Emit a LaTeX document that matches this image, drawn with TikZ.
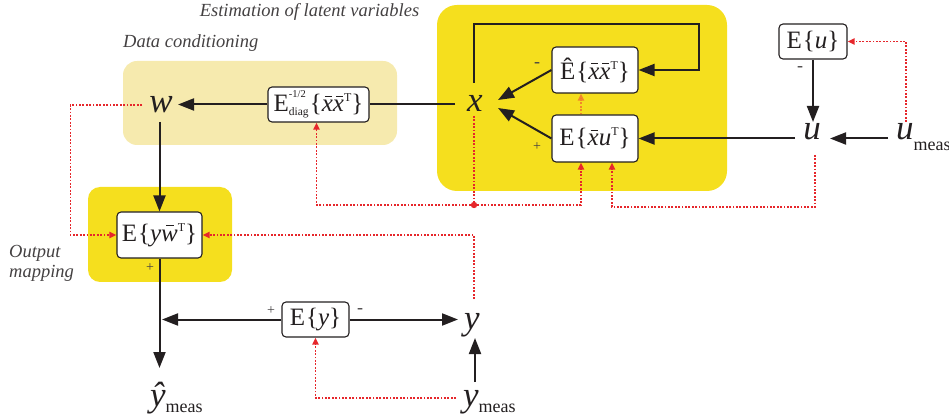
\documentclass[tikz,border=0pt]{standalone}
\usepackage{fontspec}
\setmainfont{Liberation Serif}
\usetikzlibrary{arrows.meta,calc}

\definecolor{hiyellow}{HTML}{F5DF1E}
\definecolor{paleyellow}{HTML}{F6EAAE}
\definecolor{sigred}{HTML}{E6262B}
\definecolor{sigorange}{HTML}{F2862A}
\definecolor{ink}{HTML}{231F20}

% subscript "meas", superscript T and barred letters
\newcommand{\meas}[1]{\raisebox{-#1}{\fontsize{18}{18}\selectfont\upshape meas}}
\newcommand{\trsp}{\raisebox{10pt}{\fontsize{12}{12}\selectfont\upshape T}}
\newcommand{\ob}[3]{\leavevmode\rlap{\kern#2\rule[15pt]{#3}{0.9pt}}#1}

\begin{document}
\begin{tikzpicture}[x=1pt,y=-1pt,
  var/.style={font=\fontsize{35}{35}\selectfont\itshape, inner sep=0pt, anchor=base, text=ink},
  opbox/.style={draw=ink, line width=1.1pt, fill=white, rounded corners=4pt, inner sep=0pt,
                font=\fontsize{25}{25}\selectfont, text=ink},
  flow/.style={draw=ink, line width=2pt, -{Triangle[length=16pt,width=12pt]}},
  plainflow/.style={draw=ink, line width=2pt},
  sig/.style={draw=sigred, line width=1.8pt, dash pattern=on 1.8pt off 1.6pt,
              -{Triangle[length=7pt,width=6pt,fill=sigred]}},
  sigline/.style={draw=sigred, line width=1.8pt, dash pattern=on 1.8pt off 1.6pt},
  caption/.style={font=\fontsize{18.5}{18.5}\selectfont\itshape, inner sep=0pt, text=ink!85},
  sign/.style={inner sep=0pt, anchor=base, text=ink!85}]

\useasboundingbox (0,0) rectangle (949,419);

% shaded regions
\fill[hiyellow, rounded corners=20pt] (437,5) rectangle (727,191);
\fill[paleyellow, rounded corners=14pt] (123,61) rectangle (397,145);
\fill[hiyellow, rounded corners=12pt] (88,187) rectangle (232,282);

% region captions
\node[caption, anchor=base] (capest) at (309.5,17) {Estimation of latent variables};
\node[caption, anchor=base west] (capdata) at (123,48) {Data conditioning};
\node[caption, anchor=base west] (capout1) at (9,258) {Output};
\node[caption, anchor=base west] (capout2) at (9,278) {mapping};

% variables
\node[var] (w) at (161,113) {w};
\node[var] (x) at (475,112) {x};
\node[var] (u) at (812,140) {u};
\node[var, anchor=base west] (um) at (896,140) {u\meas{11pt}};
\node[var] (y) at (472,329) {y};
\node[var, anchor=base west] (ym) at (463,406) {y\meas{6pt}};
\node[var, anchor=base west] (yh) at (150,406) {\^{y}\meas{6pt}};

% operator boxes
\node[opbox, minimum width=101pt, minimum height=35pt] (Ed) at (318.5,104.5)
  {E\rlap{\smash{\raisebox{14pt}{\fontsize{10.5}{10.5}\selectfont -1/2}}}\makebox[21pt][l]{\smash{\raisebox{-4pt}{\fontsize{11.5}{11.5}\selectfont diag}}}\{\textit{\ob{x}{3pt}{7pt}\ob{x}{3pt}{7pt}}\trsp\}};
\node[opbox, minimum width=86pt, minimum height=46pt] (Eh) at (595,70)
  {\^{E}\kern1pt\{\textit{\ob{x}{3pt}{7pt}\ob{x}{3pt}{7pt}}\trsp\}};
\node[opbox, minimum width=86pt, minimum height=47pt] (Exu) at (595,138.5)
  {E\kern1pt\{\textit{\ob{x}{3pt}{7pt}u}\trsp\}};
\node[opbox, minimum width=68pt, minimum height=35pt] (Eu) at (813,41.5)
  {E\kern1pt\{\textit{u}\}};
\node[opbox, minimum width=85pt, minimum height=46pt] (Eyw) at (159.5,235)
  {E\kern1pt\{\textit{y\ob{w}{5pt}{8pt}}\trsp\}};
\node[opbox, minimum width=67pt, minimum height=35pt] (Ey) at (315.5,319.5)
  {E\kern1pt\{\textit{y}\}};

% signs
\node[sign, font=\fontsize{18}{18}\selectfont] (m1) at (537,68) {-};
\node[sign, font=\fontsize{14}{14}\selectfont] (p1) at (537,151) {+};
\node[sign, font=\fontsize{18}{18}\selectfont] (m2) at (800,72) {-};
\node[sign, font=\fontsize{14}{14}\selectfont] (p2) at (150,272) {+};
\node[sign, font=\fontsize{14}{14}\selectfont] (p3) at (271,314) {+};
\node[sign, font=\fontsize{18}{18}\selectfont] (m3) at (360,313) {-};

% ports next to the variables
\coordinate (wR) at ($(w.base)+(17,-9)$);
\coordinate (wB) at ($(w.base)+(-1,9)$);
\coordinate (wL) at ($(w.base)+(-19,-8)$);
\coordinate (xL) at ($(x.base)+(-20,-8)$);
\coordinate (xT) at ($(x.base)+(-1,-29)$);
\coordinate (xR1) at ($(x.base)+(23,-12)$);
\coordinate (xR2) at ($(x.base)+(23,-4)$);
\coordinate (xB) at ($(x.base)+(-1,4)$);
\coordinate (J) at ($(x.base)+(-1,93)$);
\coordinate (loopTR) at (699,24);
\coordinate (uL) at ($(u.base)+(-17,-1.5)$);
\coordinate (uR) at ($(u.base)+(18,-1.5)$);
\coordinate (uT) at ($(u.base)+(1,-18)$);
\coordinate (uB) at ($(u.base)+(3,15)$);
\coordinate (uDrop) at ($(u.base)+(3,67)$);
\coordinate (umL) at ($(um.base west)+(-8,-1.5)$);
\coordinate (umT) at ($(um.base west)+(10,-18)$);
\coordinate (yL) at ($(y.base)+(-14,-9)$);
\coordinate (yT) at ($(y.base)+(2,-30)$);
\coordinate (yBot) at ($(y.base)+(3,9)$);
\coordinate (ymT) at ($(ym.base west)+(12,-24)$);
\coordinate (ymL) at ($(ym.base west)+(-7,-8)$);
\coordinate (yhT) at ($(yh.base west)+(10,-38)$);
\coordinate (wLoop) at ($(Eyw.west)+(-46,0)$);

% signal flow
\draw[flow] (Ed.west) -- (Ed.west -| wR);
\draw[plainflow] (Ed.east -| xL) -- (Ed.east);
\draw[flow] (xT) |- (loopTR) |- (Eh.east);
\draw[flow] (Eh.west) -- (xR1);
\draw[flow] (Exu.west) -- (xR2);
\draw[flow] (Exu.east -| uL) -- (Exu.east);
\draw[flow] (umL) -- (uR);
\draw[flow] (Eu.south) -- (Eu.south |- uT);
\draw[flow] (Eyw.north |- wB) -- (Eyw.north);
\draw[flow] (Eyw.south) -- (Eyw.south |- yhT);
\draw[flow] (Ey.west) -- ($(Ey.west -| Eyw.south)+(2.5,0)$);
\draw[flow] (Ey.east) -- (Ey.east -| yL);
\draw[flow] (ymT) -- (ymT |- yBot);

% measured-data paths
\draw[sig] (wL) -| (wLoop) -- (Eyw.west);
\draw[sig] (yT) |- (Eyw.east);
\draw[sig] (ymL) -| (Ey.south);
\draw[sigline] (xB) -- (J);
\draw[sig] (J) -| ([xshift=-2pt]Ed.south);
\draw[sig] (J) -| ([xshift=-14pt]Exu.south);
\fill[sigred] (J) circle (3.2pt);
\draw[sig] (uB) -- (uDrop) -| ([xshift=17pt]Exu.south);
\draw[sig] (umT) |- (Eu.east);
\draw[sig, draw=sigorange] ([xshift=-14pt]Exu.north) -- ([xshift=-14pt]Eh.south);

\end{tikzpicture}
\end{document}
